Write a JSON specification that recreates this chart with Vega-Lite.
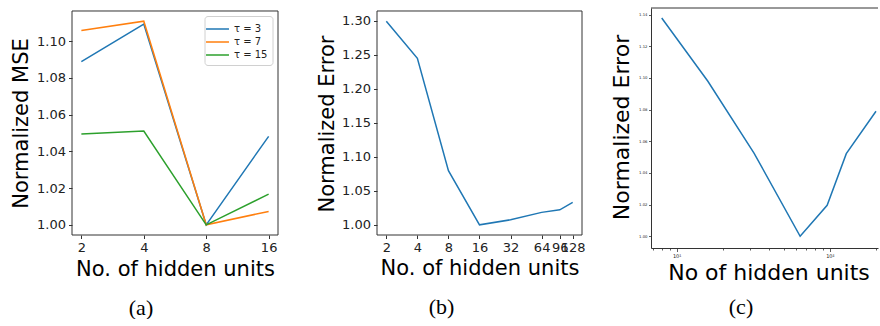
{
  "$schema": "https://vega.github.io/schema/vega-lite/v6.json",
  "padding": {"left": 9, "top": 5, "right": 0, "bottom": 0},
  "background": "white",
  "bounds": "flush",
  "spacing": 0,
  "config": {
    "view": {"stroke": null},
    "font": "DejaVu Sans",
    "axis": {"labelFont": "DejaVu Sans", "titleFont": "DejaVu Sans", "labelColor": "#222222", "titleColor": "#000000", "tickColor": "#333333", "domainColor": "#333333", "grid": false, "titleFontWeight": "normal", "labelFontSize": 13, "titleFontSize": 21, "tickSize": 3.5, "tickWidth": 1, "labelPadding": 3, "domain": false, "labelOverlap": false, "labelBound": false, "tickCount": 40},
    "title": {"font": "Liberation Serif", "fontSize": 22, "fontWeight": "normal", "color": "#000000", "orient": "bottom", "anchor": "middle", "frame": "group", "baseline": "alphabetic"}
  },
  "datasets": {
    "a": [
      {"units": 2, "tau": "τ = 3", "mse": 1.0889},
      {"units": 4, "tau": "τ = 3", "mse": 1.1093},
      {"units": 8, "tau": "τ = 3", "mse": 1.0},
      {"units": 16, "tau": "τ = 3", "mse": 1.0482},
      {"units": 2, "tau": "τ = 7", "mse": 1.1058},
      {"units": 4, "tau": "τ = 7", "mse": 1.1109},
      {"units": 8, "tau": "τ = 7", "mse": 1.0},
      {"units": 16, "tau": "τ = 7", "mse": 1.0073},
      {"units": 2, "tau": "τ = 15", "mse": 1.0495},
      {"units": 4, "tau": "τ = 15", "mse": 1.0511},
      {"units": 8, "tau": "τ = 15", "mse": 1.0},
      {"units": 16, "tau": "τ = 15", "mse": 1.0167}
    ],
    "b": [
      {"units": 2, "err": 1.2994},
      {"units": 4, "err": 1.2448},
      {"units": 8, "err": 1.0796},
      {"units": 16, "err": 1.0},
      {"units": 32, "err": 1.0074},
      {"units": 64, "err": 1.0183},
      {"units": 96, "err": 1.0221},
      {"units": 128, "err": 1.033}
    ],
    "c": [
      {"units": 8, "err": 1.1379},
      {"units": 16, "err": 1.0979},
      {"units": 32, "err": 1.0526},
      {"units": 64, "err": 1.0},
      {"units": 96, "err": 1.0196},
      {"units": 128, "err": 1.0522},
      {"units": 200, "err": 1.079}
    ]
  },
  "hconcat": [
    {
      "width": 206,
      "height": 227,
      "title": {"text": "(a)", "dx": -34, "offset": 19},
      "layer": [
        {
          "data": {"name": "a"},
          "mark": {"type": "line", "strokeWidth": 1.5},
          "encoding": {
            "x": {"field": "units", "type": "quantitative",
              "scale": {"type": "log", "base": 2, "domain": [1.8025, 17.753], "nice": false},
              "axis": {"values": [2, 4, 8, 16], "tickCount": 40, "format": "d", "labelOverlap": false, "title": "No. of hidden units", "titleX": 103, "titleY": 40, "titleBaseline": "alphabetic"}},
            "y": {"field": "mse", "type": "quantitative",
              "scale": {"domain": [0.99445, 1.11808], "nice": false, "zero": false},
              "axis": {"values": [1.0, 1.02, 1.04, 1.06, 1.08, 1.1], "tickCount": 40, "format": ".2f", "labelOverlap": false, "title": "Normalized MSE", "titleX": -45, "titleY": 115, "titleBaseline": "alphabetic"}},
            "color": {"field": "tau", "type": "nominal",
              "scale": {"domain": ["τ = 3", "τ = 7", "τ = 15"], "range": ["#1f77b4", "#ff7f0e", "#2ca02c"]},
              "legend": {"orient": "none", "legendX": 132.5, "legendY": 8, "title": null, "symbolType": "M-1.64,0H1.64", "symbolSize": 196, "symbolStrokeWidth": 1.5, "labelFontSize": 10, "labelFont": "DejaVu Sans", "labelColor": "#222222", "padding": 5, "fillColor": "rgba(255,255,255,0.8)", "strokeColor": "#d0d0d0", "cornerRadius": 3, "rowPadding": 0, "labelOffset": 8.5}}
          }
        },
        {
          "data": {"values": [{}]},
          "mark": {"type": "rect", "fill": null, "stroke": "#333333", "strokeWidth": 1},
          "encoding": {
            "x": {"datum": 1.8025, "type": "quantitative"},
            "x2": {"datum": 17.753},
            "y": {"datum": 0.99445, "type": "quantitative"},
            "y2": {"datum": 1.11645}
          }
        }
      ]
    },
    {
      "width": 99, "height": 1,
      "data": {"values": [{}]},
      "mark": {"type": "point", "opacity": 0}
    },
    {
      "width": 205,
      "height": 227,
      "title": {"text": "(b)", "dx": -38, "offset": 19},
      "layer": [
        {
          "data": {"name": "b"},
          "mark": {"type": "line", "strokeWidth": 1.5, "color": "#1f77b4"},
          "encoding": {
            "x": {"field": "units", "type": "quantitative",
              "scale": {"type": "log", "base": 2, "domain": [1.6245, 157.59], "nice": false},
              "axis": {"values": [2, 4, 8, 16, 32, 64, 96, 128], "tickCount": 40, "format": "d", "labelOverlap": false, "title": "No. of hidden units", "titleX": 102.5, "titleY": 39, "titleBaseline": "alphabetic"}},
            "y": {"field": "err", "type": "quantitative",
              "scale": {"domain": [0.98503, 1.31889], "nice": false, "zero": false},
              "axis": {"values": [1.0, 1.05, 1.1, 1.15, 1.2, 1.25, 1.3], "tickCount": 40, "format": ".2f", "labelOverlap": false, "title": "Normalized Error", "titleX": -44, "titleY": 115.5, "titleBaseline": "alphabetic"}}
          }
        },
        {
          "data": {"values": [{}]},
          "mark": {"type": "rect", "fill": null, "stroke": "#333333", "strokeWidth": 1},
          "encoding": {
            "x": {"datum": 1.6245, "type": "quantitative"},
            "x2": {"datum": 157.59},
            "y": {"datum": 0.98503, "type": "quantitative"},
            "y2": {"datum": 1.31448}
          }
        }
      ]
    },
    {
      "width": 69, "height": 1,
      "data": {"values": [{}]},
      "mark": {"type": "point", "opacity": 0}
    },
    {
      "width": 227,
      "height": 240,
      "title": {"text": "(c)", "dx": -23.5, "offset": 14},
      "layer": [
        {
          "data": {"name": "c"},
          "mark": {"type": "line", "strokeWidth": 1.5, "color": "#1f77b4"},
          "encoding": {
            "x": {"field": "units", "type": "quantitative",
              "scale": {"type": "log", "base": 10, "domain": [6.81, 206.1], "nice": false},
              "axis": {"values": [7, 8, 9, 10, 20, 30, 40, 50, 60, 70, 80, 90, 100, 200], "tickCount": 40, "labelExpr": "datum.value == 10 ? '10¹' : (datum.value == 100 ? '10²' : '')", "labelOverlap": false, "labelFontSize": 5, "labelPadding": 1.5, "domain": true, "tickSize": {"condition": {"test": "datum.value == 10 || datum.value == 100", "value": 3.5}, "value": 2}, "tickWidth": 0.8, "title": "No of hidden units", "titleFontSize": 22, "titleX": 117.5, "titleY": 31, "titleBaseline": "alphabetic"}},
            "y": {"field": "err", "type": "quantitative",
              "scale": {"domain": [0.9926, 1.1442], "nice": false, "zero": false},
              "axis": {"values": [1.0, 1.02, 1.04, 1.06, 1.08, 1.1, 1.12, 1.14], "tickCount": 40, "format": ".2f", "labelOverlap": false, "labelFontSize": 3.8, "labelPadding": 1.5, "tickSize": 2.5, "tickWidth": 0.8, "domain": true, "title": "Normalized Error", "titleFontSize": 22, "titleX": -22.5, "titleY": 119, "titleBaseline": "alphabetic"}}
          }
        },
        {
          "data": {"values": [{}]},
          "mark": {"type": "rule", "color": "#333333", "strokeWidth": 1},
          "encoding": {
            "y": {"datum": 1.1442, "type": "quantitative"}
          }
        }
      ]
    }
  ]
}
